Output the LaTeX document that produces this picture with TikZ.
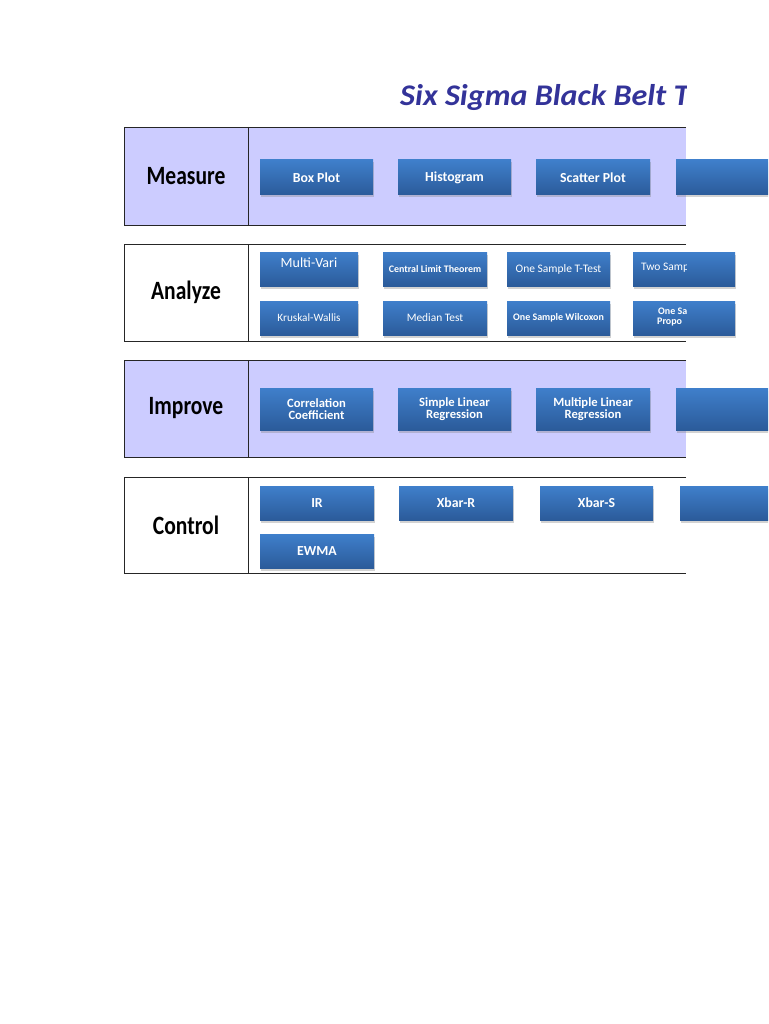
\documentclass[tikz,border=0pt]{standalone}
\usepackage{fontspec}
\setmainfont{Carlito}
\usetikzlibrary{shadows}
\definecolor{lav}{HTML}{CCCCFF}
\definecolor{ttl}{HTML}{333399}
\definecolor{btop}{HTML}{3F7FCB}
\definecolor{bbot}{HTML}{2B5B9A}
\tikzset{
  btn/.style={rectangle, top color=btop, bottom color=bbot, draw=none, text=white,
    align=center, inner sep=0pt,
    drop shadow={shadow xshift=0.5pt, shadow yshift=-2.5pt, opacity=0.35}},
  sectlabel/.style={font=\bfseries\fontsize{22}{24}\selectfont, text=black},
  secline/.style={draw=black!85, line width=0.9pt},
  fb/.style={font=\bfseries\fontsize{#1}{#1}\selectfont},
  fr/.style={font=\fontsize{#1}{#1}\selectfont},
}
\newcommand\mybtn[7][]{%
  \node[btn, minimum width={(#5-#3)*1pt}, minimum height={(#6-#4)*1pt}, #1]
    (#2) at ({(#3+#5)/2},{(#4+#6)/2}) {#7};}
\newcommand\mysect[5]{%
  \fill[#5] (124,#3) rectangle (686,#4);
  \draw[secline] (686,#3) -- (124,#3) -- (124,#4) -- (686,#4);
  \draw[secline] (248,#3) -- (248,#4);
  \node[sectlabel] (#1) at (186,{(#3+#4)/2}) {\scalebox{0.98}[1.2]{#2}};}
\begin{document}
\begin{tikzpicture}[x=1pt,y=-1pt]
\useasboundingbox (0,0) rectangle (768,1024);
\fill[white] (0,0) rectangle (768,1024);
\clip (0,0) rectangle (768,1024);

% title (clipped at the sheet edge)
\begin{scope}
  \clip (0,0) rectangle (686,140);
  \node[anchor=base west, inner sep=0pt, text=ttl,
        font=\bfseries\itshape\fontsize{30}{32}\selectfont] (title) at (400,106)
        {\scalebox{1.07}[1]{Six Sigma Black Belt T}};
\end{scope}

% sections
\mysect{measure}{Measure}{127}{225}{lav}
\mysect{analyze}{Analyze}{244}{341}{white}
\mysect{improve}{Improve}{360}{457}{lav}
\mysect{control}{Control}{477}{573}{white}

% Measure buttons
\mybtn[fb=13.8]{m1}{260}{160}{373}{195}{Box Plot}
\mybtn[fb=13.8]{m2}{398}{160}{511}{195}{Histogram}
\mybtn[fb=13.8]{m3}{536}{160}{650}{195}{Scatter Plot}
\mybtn{m4}{676}{160}{790}{195}{}

% Analyze buttons
\mybtn[fr=14]{a1}{260}{252}{358}{286}{Multi-Vari\\[-1pt]\mbox{}}
\mybtn[fb=10]{a2}{383}{252}{487}{286}{Central Limit Theorem}
\mybtn[fr=11.5]{a3}{507}{252}{610}{286}{One Sample T-Test}
\mybtn{a4}{633}{252}{735}{286}{}
\mybtn[fr=11.2]{a5}{260}{301}{358}{335}{Kruskal-Wallis}
\mybtn[fr=11.4]{a6}{383}{301}{487}{335}{Median Test}
\mybtn[fb=10]{a7}{507}{301}{610}{335}{One Sample Wilcoxon}
\mybtn{a8}{633}{301}{735}{335}{}

% Improve buttons
\mybtn[fb=12.6]{i1}{260}{388}{373}{430}{Correlation\\[0pt]Coefficient}
\mybtn[fb=12.6]{i2}{398}{388}{511}{430}{Simple Linear\\[0pt]Regression}
\mybtn[fb=12.6]{i3}{536}{388}{650}{430}{Multiple Linear\\[0pt]Regression}
\mybtn{i4}{676}{388}{790}{430}{}

% Control buttons
\mybtn[fb=13.8]{c1}{260}{486}{374}{520}{IR}
\mybtn[fb=13.8]{c2}{399}{486}{513}{520}{Xbar-R}
\mybtn[fb=13.8]{c3}{540}{486}{653}{520}{Xbar-S}
\mybtn{c4}{680}{486}{794}{520}{}
\mybtn[fb=13.8]{c5}{260}{534}{374}{568}{EWMA}

% texts of the partly hidden buttons, cut at the sheet edge
\begin{scope}
  \clip (0,140) rectangle (686,460);
  \node[fr=11.5, text=white, anchor=west, inner sep=0pt] (a4t) at (641,268) {Two Samp};
  \node[fb=10, text=white, anchor=west, inner sep=0pt, align=left] (a8t) at (657,317)
       {\hspace*{1pt}One Sa\\[0pt]Propo};
\end{scope}
\end{tikzpicture}
\end{document}
